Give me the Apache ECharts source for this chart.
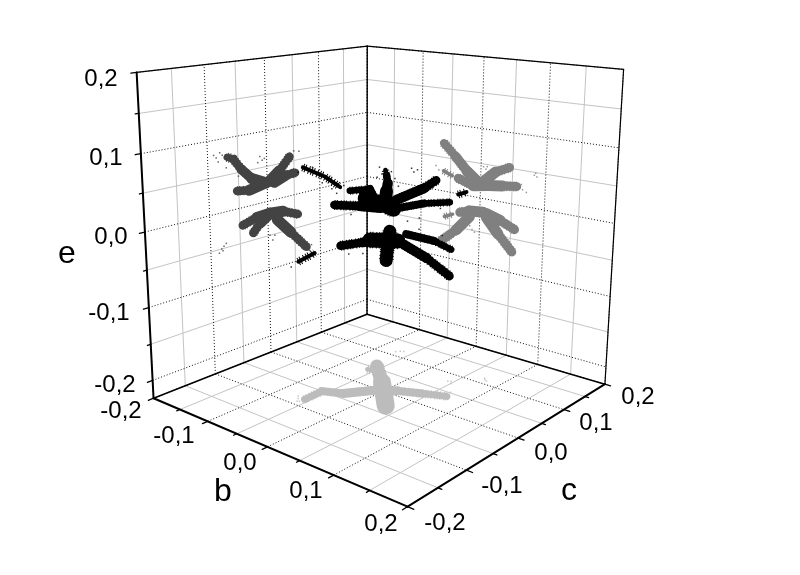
<!DOCTYPE html>
<html><head><meta charset="utf-8">
<style>html,body{margin:0;padding:0;background:#fff}#c{width:800px;height:575px}</style>
<script src="https://cdn.jsdelivr.net/npm/echarts@6/dist/echarts.min.js"></script>
</head><body><div id="c"></div>
<script>
// ---- tick labels ----
const eTickLabels = ['0,2','0,1','0,0','-0,1','-0,2'];
const bTickLabels = ['-0,2','-0,1','0,0','0,1','0,2'];
const cTickLabels = ['-0,2','-0,1','0,0','0,1','0,2'];
const axisTicks = [-0.2,-0.15,-0.1,-0.05,0,0.05,0.1,0.15,0.2];
const eFloor = -0.225;

// ---- left wall projection, [c, e], arms from tip to centre ----
const leftArms = [
  [[-0.068,0.074],[-0.058,0.07],[-0.045,0.054],[-0.027,0.0375],[-0.002,0.027]],
  [[-0.053,0.025],[-0.032,0.022],[-0.002,0.027]],
  [[0.042,0.057],[0.023,0.04],[0.004,0.028]],
  [[0.052,0.032],[0.033,0.031],[0.013,0.025]],
  [[-0.045,-0.025],[-0.02,-0.019],[0.004,-0.018]],
  [[0.056,-0.03],[0.028,-0.02],[0.004,-0.018]],
  [[0.072,-0.083],[0.042,-0.054],[0.017,-0.03]],
  [[-0.027,-0.04],[-0.014,-0.028],[0.004,-0.018]]
];
const leftSpecks = [[-0.09,0.08],[-0.086,0.076],[-0.083,0.07],[-0.08,0.082],[-0.076,0.078],[-0.012,0.066],[-0.008,0.06],[-0.016,0.058],[-0.004,0.062],
  [-0.082,-0.05],[-0.078,-0.047],[-0.086,-0.055],[-0.08,-0.053],[-0.074,-0.044],[0.008,-0.058],[0.003,-0.05],[0.012,-0.052],
  [0.078,-0.09],[0.082,-0.082],[0.06,0.062],[0.05,0.064],[-0.07,0.06],[-0.05,0.045]];

// ---- right wall projection, [b, e] ----
const rightArms = [
  [[-0.062,0.071],[-0.042,0.054],[-0.022,0.035],[-0.005,0.023]],
  [[0.045,0.051],[0.023,0.041],[0.005,0.025]],
  [[0.057,0.026],[0.035,0.023],[0.012,0.02]],
  [[-0.037,0.023],[-0.012,0.016],[0.012,0.02]],
  [[-0.033,-0.027],[-0.017,-0.022],[0.005,-0.02]],
  [[-0.064,-0.076],[-0.038,-0.054],[-0.017,-0.031]],
  [[0.056,-0.036],[0.033,-0.027],[0.011,-0.021]],
  [[0.053,-0.069],[0.03,-0.047],[0.011,-0.027]]
];
const rightDetached = [[[-0.062,0.03],[-0.047,0.025]],[[-0.059,-0.038],[-0.045,-0.032]]];
const rightSpecks = [[0.085,0.049],[0.083,0.046],[0.087,0.044],[0.008,0.043],[0.004,0.046],[0.012,0.04],[0.01,0.047],
  [-0.012,-0.049],[-0.016,-0.044],[-0.008,-0.052],[-0.07,0.03],[-0.075,0.036],[0.066,0.023],[0.072,0.02],[0.064,0.03]];

// ---- floor projection, [b, c] ----
const floorArms = [
  [[-0.057,-0.082],[-0.058,-0.05],[-0.033,-0.038],[-0.01,-0.005]],
  [[0.07,0.039],[0.042,0.026],[0.013,0.012],[0,0]]
];
const floorSpike = [[-0.058,0.056],[-0.019,0.02],[0.03,-0.031]];
const floorBranch = [[-0.061,0.04],[-0.048,0.043]];
const floorSpecks = [[-0.068,0.117],[-0.064,0.12],[-0.072,0.112],[0.043,0.077],[0.046,0.08],[0.05,0.074],[0.076,0.112],[0.08,0.11],[0.073,0.116],
  [-0.065,-0.085],[-0.07,-0.08],[-0.06,-0.092],[0.066,0.052],[-0.058,-0.09],[0.072,0.03]];

// ---- points in space, [b, c, e] ----
const blackWide = [
  [[0.044,0.044,0.061],[0.034,0.034,0.051],[0.01,0.01,0.036]],
  [[-0.037,-0.037,-0.023],[-0.018,-0.018,-0.019],[0.002,0.002,-0.015]],
  [[0.057,0.057,-0.067],[0.037,0.037,-0.042],[0.017,0.017,-0.023]],
  [[-0.042,-0.042,0.031],[-0.021,-0.021,0.029],[-0.003,-0.003,0.026]]
];
const blackNarrow = [
  [[0.056,0.056,0.032],[0.034,0.034,0.031],[0.014,0.014,0.026]],
  [[-0.029,-0.029,0.049],[-0.012,-0.012,0.051],[-0.007,-0.007,0.035]],
  [[0.058,0.058,-0.031],[0.043,0.043,-0.019],[0.019,0.019,-0.009]]
];
const blackUpSpike = [[0.001,0.001,0.075],[0.002,0.002,0.068],[0.003,0.003,0.058],[0.002,0.002,0.048],[0.001,0.001,0.035]];
const blackDownSpike = [[0.005,0.005,-0.005],[0.003,0.003,-0.026],[0.002,0.002,-0.044]];
const blackBody = [
  [[-0.016,-0.016,0.039],[-0.003,-0.003,0.032],[0.008,0.008,0.024]],
  [[-0.012,-0.012,-0.016],[0.012,0.012,-0.018]]
];
const blackDetached = [
  [[-0.068,-0.068,0.08],[-0.05,-0.05,0.068],[-0.037,-0.037,0.054]],
  [[0.063,0.063,0.042],[0.07,0.07,0.045]],
  [[-0.073,-0.073,-0.043],[-0.059,-0.059,-0.032]]
];
const blackSpecks = [[-0.004,-0.004,0.079],[0.006,0.006,0.073],[-0.002,-0.002,0.07],[0.009,0.009,0.064],[-0.006,-0.006,0.066],[0.012,0.012,0.054],
  [0.023,0.023,0.077],[0.025,0.025,0.072],[0.028,0.028,0.075],[-0.04,-0.04,0.046],[-0.034,-0.034,0.056],
  [-0.03,-0.03,-0.034],[-0.018,-0.018,-0.034],[-0.079,-0.079,-0.05],[-0.06,-0.06,0.08],[-0.072,-0.072,0.074],[-0.044,-0.044,0.052],[-0.052,-0.052,0.06],
  [0.03,0.03,0.012],[-0.028,-0.028,0.018],[0.02,0.02,0.008],[0.05,0.05,-0.012],[0.03,0.03,-0.003],[0.048,0.048,0.024]];

// ---- projection fitted to the box corners and axis ticks ----
const fit = [
  [-.2,-.2,.2,136,73],[-.2,-.2,0,146,231],[-.2,-.2,eFloor,154,398],
  [-.2,.2,.2,367,46],[-.2,.2,0,367,176],[-.2,.2,eFloor,367,315],
  [.2,.2,.2,624,70],[.2,.2,eFloor,604,384],[.2,-.2,eFloor,406,507],
  [-.1,-.2,eFloor,207,422],[0,-.2,eFloor,268,447],[.1,-.2,eFloor,333,475],
  [.2,-.1,eFloor,468,470],[.2,0,eFloor,518,438],[.2,.1,eFloor,565,409]
];
function solve(A,y){const n=y.length;for(let i=0;i<n;i++){let m=i;for(let r=i+1;r<n;r++)if(Math.abs(A[r][i])>Math.abs(A[m][i]))m=r;
  [A[i],A[m]]=[A[m],A[i]];[y[i],y[m]]=[y[m],y[i]];
  for(let r=i+1;r<n;r++){const f=A[r][i]/A[i][i];for(let k=i;k<n;k++)A[r][k]-=f*A[i][k];y[r]-=f*y[i];}}
  const x=new Array(n);for(let i=n-1;i>=0;i--){let s=y[i];for(let k=i+1;k<n;k++)s-=A[i][k]*x[k];x[i]=s/A[i][i];}return x;}
const P=(()=>{const N=11,A=[...Array(N)].map(()=>Array(N).fill(0)),B=Array(N).fill(0);
  const add=(row,t)=>{for(let i=0;i<N;i++){B[i]+=row[i]*t;for(let k=0;k<N;k++)A[i][k]+=row[i]*row[k];}};
  fit.forEach(([b,c,e,u,v])=>{const X=b*5,Y=c*5,Z=e*5,U=u/400,V=v/400;
    add([X,Y,Z,1,0,0,0,0,-U*X,-U*Y,-U*Z],U);add([0,0,0,0,X,Y,Z,1,-V*X,-V*Y,-V*Z],V);});
  return solve(A,B);})();
function pr(b,c,e){const X=b*5,Y=c*5,Z=e*5,w=P[8]*X+P[9]*Y+P[10]*Z+1;
  return [400*(P[0]*X+P[1]*Y+P[2]*Z+P[3])/w,400*(P[4]*X+P[5]*Y+P[6]*Z+P[7])/w];}
const onLeft=([c,e])=>pr(-.2,c,e), onRight=([b,e])=>pr(b,.2,e), onFloor=([b,c])=>pr(b,c,eFloor), inSpace=([b,c,e])=>pr(b,c,e);

// ---- series builders ----
const series=[];
function seg(points,color,width,z,dash){series.push({type:'line',data:points,showSymbol:false,silent:true,z:z,animation:false,clip:false,
  lineStyle:{color:color,width:width,type:dash||'solid',cap:dash?'butt':'round',join:'round'}});}
const isMajor=t=>Math.abs(Math.round(t*10)-t*10)<1e-6;
const GREY='#c4c4c4',DOT='#111',DOTS=[1,2],GRAIN=[1,1.3,1,2.9,1,1.9];
axisTicks.forEach(t=>{
  const m=isMajor(t),col=m?DOT:GREY,z=m?2:1,d=m?DOTS:null;
  seg([pr(-.2,t,eFloor),pr(-.2,t,.2)],col,1,z,d);
  seg([pr(-.2,-.2,t),pr(-.2,.2,t)],col,1,z,d);
  seg([pr(t,.2,eFloor),pr(t,.2,.2)],col,1,z,d);
  seg([pr(-.2,.2,t),pr(.2,.2,t)],col,1,z,d);
  seg([pr(t,-.2,eFloor),pr(t,.2,eFloor)],col,1,z,d);
  seg([pr(-.2,t,eFloor),pr(.2,t,eFloor)],col,1,z,d);
});
// an arm widens from its tip to the centre, solid with a barely visible grain
function arms(list,map,color,tip,base,z,grain){list.forEach(a=>{const p=a.map(map),n=p.length-1;
  seg(p,color,(tip+base)/2+grain,z,GRAIN);
  for(let i=0;i<n;i++)seg([p[i],p[i+1]],color,tip+(base-tip)*(i+1)/n,z);});}
function grainy(list,map,color,width,z){list.forEach(a=>{const p=a.map(map);
  seg(p,color,width*0.5,z);seg(p,color,width,z,GRAIN);});}
function specks(list,map,color,z){series.push({type:'scatter',data:list.map(map),symbol:'rect',symbolSize:1.5,silent:true,z:z,animation:false,itemStyle:{color:color}});}
const DARK='#434343',MID='#808080',LIGHT='#bcbcbc';
arms(floorArms,onFloor,LIGHT,6,9,5,1);
arms([floorSpike],onFloor,LIGHT,9,18,5,1);
grainy([floorBranch],onFloor,LIGHT,9,5);
specks(floorSpecks,onFloor,LIGHT,5);
arms(leftArms,onLeft,DARK,6,11,5,1);
specks(leftSpecks,onLeft,DARK,5);
arms(rightArms,onRight,MID,7,11,5,1);
grainy(rightDetached,onRight,MID,7,5);
specks(rightSpecks,onRight,MID,5);
arms(blackWide,inSpace,'#000',7,10,6,1.5);
arms(blackNarrow,inSpace,'#000',5,8,6,1.5);
arms([blackUpSpike],inSpace,'#000',2,13,6,0);
arms([blackDownSpike],inSpace,'#000',13,13,6,1.5);
arms(blackBody,inSpace,'#000',15,15,6,1.5);
grainy(blackDetached,inSpace,'#000',8,6);
specks(blackSpecks,inSpace,'#000',6);

// ---- box and axes ----
const F=eFloor;
[[[-.2,-.2,.2],[-.2,.2,.2],1.2],[[-.2,.2,.2],[.2,.2,.2],1.2],[[.2,.2,.2],[.2,.2,F],1.2],[[-.2,.2,.2],[-.2,.2,F],1.4],
 [[-.2,-.2,F],[-.2,.2,F],1.5],[[-.2,.2,F],[.2,.2,F],1.5],
 [[-.2,-.2,.2],[-.2,-.2,F],2],[[-.2,-.2,F],[.2,-.2,F],2],[[.2,-.2,F],[.2,.2,F],2]
].forEach(([a,b,w])=>seg([pr(...a),pr(...b)],'#000',w,8));
axisTicks.forEach(t=>{
  const L=isMajor(t)?.008:.005;
  seg([pr(-.2,-.2,t),pr(-.2,-.2-L,t)],'#000',1.3,8);
  seg([pr(t,-.2,F),pr(t,-.2-L,F)],'#000',1.3,8);
  seg([pr(.2,t,F),pr(.2+L,t,F)],'#000',1.3,8);
});

// ---- text layout ----
const txt=(s,x,y,size)=>({type:'text',x:x,y:y,style:{text:s,fontFamily:'"Liberation Sans",Arial,sans-serif',fontSize:size,fill:'#000',align:'center',verticalAlign:'middle'}});
const ePos=[[101,79],[106,158],[111,237],[109,313],[115,385]];
const bPos=[[121,411],[174,436],[240,463],[306,491],[381,524]];
const cPos=[[445,523],[502,486],[551,453],[596,423],[638,397]];
const graphic=[];
eTickLabels.forEach((s,i)=>graphic.push(txt(s,ePos[i][0],ePos[i][1],24)));
bTickLabels.forEach((s,i)=>graphic.push(txt(s,bPos[i][0],bPos[i][1],24)));
cTickLabels.forEach((s,i)=>graphic.push(txt(s,cPos[i][0],cPos[i][1],24)));
graphic.push(txt('e',67,254,32),txt('b',223,492,32),txt('c',569,491,32));

const chart=echarts.init(document.getElementById('c'),null,{renderer:'canvas'});
chart.setOption({
  backgroundColor:'#fff',animation:false,
  grid:{left:0,right:0,top:0,bottom:0},
  xAxis:{type:'value',min:0,max:800,show:false},
  yAxis:{type:'value',min:0,max:575,inverse:true,show:false},
  graphic:graphic,
  series:series
});
</script></body></html>
